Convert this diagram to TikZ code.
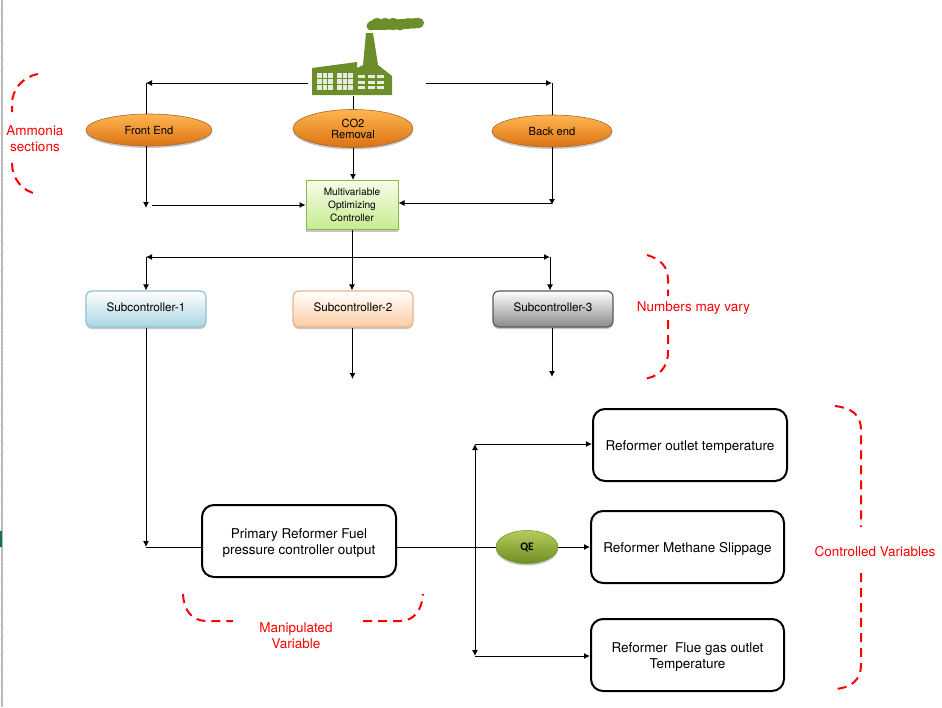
\documentclass[tikz,border=0pt]{standalone}
\usepackage{fontspec}
\setmainfont{TeX Gyre Heros}
\newfontfamily\qefont{Carlito}
\usetikzlibrary{shapes,arrows.meta,shadows}
\definecolor{factorygreen}{HTML}{6B8E2B}
\definecolor{sheetgrey}{HTML}{BBBBBB}
\definecolor{sheetgreen}{HTML}{1E7145}
\definecolor{sectionorange}{HTML}{FF8A1C}
\definecolor{sectiontop}{HTML}{FFB552}
\definecolor{sectionbottom}{HTML}{DC7212}
\definecolor{sectionline}{HTML}{A8682A}
\tikzset{
  >={Latex[length=6pt,width=6pt]},
  flow/.style={line width=1pt},
  brace/.style={red,line width=2pt,dash pattern=on 9pt off 6pt},
  softshadow/.style={drop shadow={shadow xshift=0pt,shadow yshift=-2pt,opacity=0.22,fill=black}},
  section/.style={ellipse,draw=sectionline,line width=0.6pt,inner sep=0pt,softshadow,align=center,
    top color=sectiontop,middle color=sectionorange,bottom color=sectionbottom,font=\fontsize{11.2}{11}\selectfont},
  subctrl/.style n args={3}{rectangle,rounded corners=6pt,draw=#3,line width=1.2pt,softshadow,
    top color=#1,bottom color=#2,minimum width=120pt,minimum height=36pt,inner sep=0pt,
    text height=10pt,text depth=5pt,font=\fontsize{11.7}{13}\selectfont},
  outcome/.style={rectangle,rounded corners=12pt,draw=black,line width=2pt,fill=white,align=center,
    inner sep=0pt,minimum height=72pt,font=\fontsize{13.5}{16}\selectfont},
  oneline/.style={text height=13pt,text depth=1.5pt},
  twolines/.style={text height=30pt,text depth=3pt},
  remark/.style={red,align=center,inner sep=0pt,font=\fontsize{13.5}{16}\selectfont}
}
\definecolor{subblue}{HTML}{A9D6E3}
\definecolor{subblueline}{HTML}{8FC1D1}
\definecolor{subpeach}{HTML}{FBCDA4}
\definecolor{subpeachline}{HTML}{E8B48A}
\definecolor{subgrey}{HTML}{8A8A8A}
\definecolor{subgreyline}{HTML}{5A5A5A}
\definecolor{mocline}{HTML}{8DB54A}
\definecolor{moctop}{HTML}{F6FCE8}
\definecolor{mocbottom}{HTML}{C6EC90}
\definecolor{qetop}{HTML}{B4CC5C}
\definecolor{qemid}{HTML}{9ABA3A}
\definecolor{qebottom}{HTML}{6F8E22}
\begin{document}
\begin{tikzpicture}[x=1pt,y=-1pt]
    \useasboundingbox (0,0) rectangle (942,707);
    % edge of the sheet
    \fill[sheetgrey] (1,0) rectangle (2.5,707);
    \foreach \row in {0,...,45} \draw[sheetgrey!50,line width=0.7pt] (0,10+15.36*\row)--(1,10+15.36*\row);
    \fill[sheetgreen] (0,531) rectangle (2,547);
    % plant
    \fill[factorygreen] (312,68)--(357,62)--(357,68)--(363,65)--(366,33)--(373,33)--(378,65)--(392,76)--(392,95)--(312,95)--cycle;
    \draw[factorygreen,line width=10pt,line cap=round] (373,25)--(395,24.5)--(419,23);
    \foreach \px/\py/\pr in {371/26/4.5,377/24/6,385/24/6,393/24/6,400/25/5.5,408/23.5/5.5,414/23.5/5}
      \fill[factorygreen] (\px,\py) circle (\pr);
    \foreach \bx in {317,337}
      \foreach \wx in {0,5.5,11}
        \foreach \wy in {0,6,12}
          \fill[white,opacity=0.85] (\bx+\wx,73+\wy) rectangle (\bx+\wx+4.7,73+\wy+5.2);
    \foreach \wx in {0,9.5,19}
      \foreach \wy in {0,5.5,11}
        \fill[white,opacity=0.85] (358+\wx,75+\wy) rectangle (358+\wx+7,75+\wy+3.2);
    \node[minimum width=118pt,minimum height=26pt,inner sep=0pt] (factory) at (367,83) {};

    \node[section,minimum width=126pt,minimum height=32pt] (front) at (149,130) {Front End};
    \node[section,minimum width=120pt,minimum height=38pt] (co2) at (353,128.5) {CO2\\Removal};
    \node[section,minimum width=120pt,minimum height=32pt] (back) at (552,131) {Back end};
    \node[rectangle,draw=mocline,line width=1pt,top color=moctop,bottom color=mocbottom,
      softshadow,minimum width=92pt,minimum height=49pt,inner sep=0pt,align=center,font=\fontsize{10.1}{13}\selectfont] (moc) at (352,205)
      {Multivariable\\Optimizing\\Controller};

    \coordinate (feCorner) at (146,83);
    \coordinate (feDrop) at (146,208);
    \coordinate (feJoin) at (152,205);
    \coordinate (beCorner) at (552,83);
    \coordinate (beDrop) at (552,205);
    \coordinate (beJoin) at (552,203);
    \draw[flow,->] (factory.west)--(feCorner);
    \draw[flow] (feCorner)--(feCorner |- front.north);
    \draw[flow,->] (feCorner |- front.south)--(feDrop);
    \draw[flow,->] (feJoin)--(feJoin -| moc.west);
    \draw[flow,->] (factory.east)--(beCorner);
    \draw[flow] (beCorner)--(beCorner |- back.north);
    \draw[flow,->] (beCorner |- back.south)--(beDrop);
    \draw[flow,->] (beJoin)--(beJoin -| moc.east);
    \draw[flow] (co2.north |- factory.south)--(co2.north);
    \draw[flow,->] (co2.south)--(co2.south |- moc.north);

    \node[subctrl={white}{subblue}{subblueline}] (sub1) at (146,309) {Subcontroller-1};
    \node[subctrl={white}{subpeach}{subpeachline}] (sub2) at (353,309) {Subcontroller-2};
    \node[subctrl={white}{subgrey}{subgreyline}] (sub3) at (553,309) {Subcontroller-3};
    \coordinate (subLeft) at (146,257);
    \coordinate (subRight) at (550,257);
    \coordinate (sub2Drop) at (352.5,379);
    \coordinate (sub3Drop) at (552,377);
    \draw[flow,<->] (subLeft)--(subRight);
    \draw[flow,->] (subLeft)--(subLeft |- sub1.north);
    \draw[flow,->] (subRight)--(subRight |- sub3.north);
    \draw[flow,->] (moc.south)--(moc.south |- sub2.north);
    \draw[flow,->] (sub2Drop |- sub2.south)--(sub2Drop);
    \draw[flow,->] (sub3Drop |- sub3.south)--(sub3Drop);

    \node[outcome,twolines,minimum width=194pt] (primary) at (299,541) {Primary Reformer Fuel\\pressure controller output};
    \node[outcome,oneline,minimum width=194pt] (outlet) at (690,445) {Reformer outlet temperature};
    \node[outcome,oneline,minimum width=193pt] (methane) at (687.5,547) {Reformer Methane Slippage};
    \node[outcome,twolines,minimum width=193pt] (flue) at (687.5,655) {Reformer\ \ Flue gas outlet\\Temperature};
    \node[ellipse,draw=qebottom,line width=0.5pt,inner sep=0pt,softshadow,minimum width=62pt,minimum height=33pt,
      top color=qetop,middle color=qemid,bottom color=qebottom,
      font=\qefont\bfseries\fontsize{11.5}{13}\selectfont] (qe) at (527,547) {QE};

    \coordinate (pfCorner) at (146,547);
    \coordinate (splitTop) at (475,444);
    \coordinate (splitBot) at (475,656);
    \draw[flow,->] (sub1.south)--(pfCorner);
    \draw[flow] (pfCorner)--(pfCorner -| primary.west);
    \draw[flow] (pfCorner -| primary.east)--(qe.west);
    \draw[flow,<->] (splitTop)--(splitBot);
    \draw[flow,->] (splitTop)--(splitTop -| outlet.west);
    \draw[flow,->] (qe.east)--(methane.west);
    \draw[flow,->] (splitBot)--(splitBot -| flue.west);

    % red remarks
    \draw[brace] (38,74) .. controls (22,77) and (12,90) .. (12,104)--(12,112);
    \draw[brace] (12,163) .. controls (12,178) and (22,192) .. (38,194);
    \node[remark] (ammonia) at (35,139) {Ammonia\\sections};
    \draw[brace] (647,255) .. controls (660,259) and (668,266) .. (668,280)--(668,296);
    \draw[brace] (668,320)--(668,352) .. controls (668,368) and (658,378) .. (642,379);
    \node[remark] (vary) at (693.5,308.5) {Numbers may vary};
    \draw[brace] (183,594) .. controls (184,611) and (192,621) .. (207,621)--(233,621);
    \draw[brace] (363,621)--(400,621) .. controls (414,621) and (422,610) .. (423,594);
    \node[remark] (manipulated) at (296,636) {Manipulated\\Variable};
    \draw[brace] (835,406) .. controls (851,408) and (861,414) .. (861,430)--(861,527);
    \draw[brace] (861,573)--(861,665) .. controls (861,680) and (851,688) .. (835,689);
    \node[remark] (controlled) at (875,551.5) {Controlled Variables};
    \end{tikzpicture}
\end{document}
